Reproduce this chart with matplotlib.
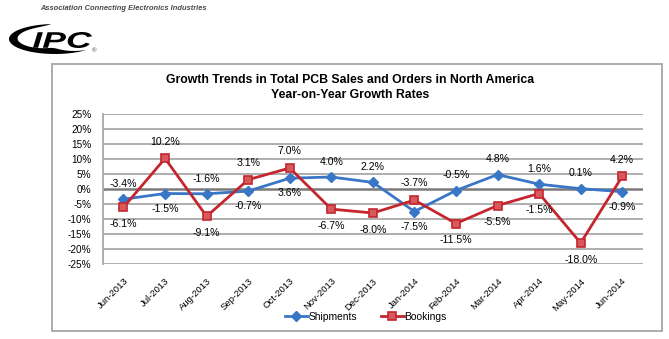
import numpy as np
import matplotlib
matplotlib.use("Agg")
import matplotlib.pyplot as plt
from matplotlib.patches import Rectangle, Polygon, PathPatch
from matplotlib.textpath import TextPath
from matplotlib.font_manager import FontProperties
from matplotlib.transforms import Affine2D

plt.rcParams['font.family'] = ['Liberation Sans', 'DejaVu Sans']

# data
months = ['Jun-2013', 'Jul-2013', 'Aug-2013', 'Sep-2013', 'Oct-2013', 'Nov-2013',
          'Dec-2013', 'Jan-2014', 'Feb-2014', 'Mar-2014', 'Apr-2014', 'May-2014',
          'Jun-2014']
shipments = [-3.4, -1.5, -1.6, -0.7, 3.6, 4.0, 2.2, -7.5, -0.5, 4.8, 1.6, 0.1, -0.9]
bookings = [-6.1, 10.2, -9.1, 3.1, 7.0, -6.7, -8.0, -3.7, -11.5, -5.5, -1.5, -18.0, 4.2]
# +1 = label above the point, -1 = below
ship_side = [1, -1, 1, -1, -1, 1, 1, -1, 1, 1, 1, 1, -1]
book_side = [-1, 1, -1, 1, 1, -1, -1, 1, -1, -1, -1, -1, 1]

blue = '#3a76c6'
red = '#c4262e'
W, H = 669, 339

fig = plt.figure(figsize=(W / 100, H / 100), dpi=100)
fig.patch.set_facecolor('white')

# overlay in pixel coords for header, logo and the chart frame
deco = fig.add_axes([0, 0, 1, 1], zorder=0)
deco.set_xlim(0, W)
deco.set_ylim(H, 0)
deco.axis('off')

deco.text(40, 8, 'Association Connecting Electronics Industries', fontsize=5.4,
          style='italic', weight='bold', color='#4a4a4a', va='center', ha='left')

# swoosh of the logo: a crescent tapering at both ends
t = np.linspace(np.radians(95), np.radians(312), 150)
cx, cy, a, b = 55, 39, 46, 15
px = cx + a * np.cos(t)
py = cy - b * np.sin(t)
thick = 9 * np.sin((t - t[0]) / (t[-1] - t[0]) * np.pi) ** 0.8
dx, dy = cx - px, cy - py
d = np.hypot(dx, dy)
ix = px + dx / d * thick
iy = py + dy / d * thick
deco.add_patch(Polygon(np.column_stack([np.r_[px, ix[::-1]], np.r_[py, iy[::-1]]]),
                       closed=True, color='black', lw=0))

# "IPC" letters stretched into their box (x 32-92, y 32-48)
tp = TextPath((0, 0), 'IPC', size=10,
              prop=FontProperties(family='Liberation Sans', weight='bold', style='italic'))
ext = tp.get_extents()
sx = (92 - 33) / ext.width
sy = (48 - 32) / ext.height
tr = Affine2D().translate(-ext.x0, -ext.y0).scale(sx, -sy).translate(33, 48)
deco.add_patch(PathPatch(tr.transform_path(tp), color='black', lw=0))
deco.text(94, 51, '®', fontsize=4.5, color='#333333', va='center', ha='center')

deco.add_patch(Rectangle((52, 64), 610, 267, fill=False, ec='#a6a6a6', lw=1.3))
deco.text(350, 80, 'Growth Trends in Total PCB Sales and Orders in North America',
          fontsize=8.8, weight='bold', ha='center', va='center')
deco.text(350, 95, 'Year-on-Year Growth Rates', fontsize=8.8, weight='bold',
          ha='center', va='center')

# main plot
ax = fig.add_axes([102.7 / W, 1 - 264 / H, (643 - 102.7) / W, (264 - 114) / H], zorder=1)
ax.set_facecolor('none')
x = np.arange(len(months))

ax.set_ylim(-25, 25)
ax.set_xlim(-0.5, len(months) - 0.5)
ax.set_yticks(np.arange(-25, 26, 5))
ax.set_yticklabels([f'{v}%' for v in range(-25, 26, 5)])
for v in range(-25, 26, 5):
    if v == 0:
        ax.axhline(v, color='#7a7a7a', lw=1.8, zorder=1)
    else:
        ax.axhline(v, color='#a8a8a8', lw=1.3, zorder=1)
for s in ['top', 'right', 'bottom']:
    ax.spines[s].set_visible(False)
ax.spines['left'].set_color('#a8a8a8')
ax.spines['left'].set_linewidth(1.3)
ax.tick_params(axis='both', length=0, labelsize=7.2)
ax.tick_params(axis='y', pad=8)
ax.set_xticks(x)
ax.set_xticklabels(months, rotation=45, ha='right', rotation_mode='anchor',
                   fontsize=6.8)
ax.tick_params(axis='x', pad=9)

ax.plot(x, shipments, color=blue, lw=2, marker='D', ms=5, mfc=blue, mec=blue,
        zorder=3, label='Shipments')
ax.plot(x, bookings, color=red, lw=2, marker='s', ms=6, mfc='#d65a5a', mec=red,
        mew=1.2, zorder=4, label='Bookings')

for xi, v, s in zip(x, shipments, ship_side):
    ax.annotate(f'{v:.1f}%', (xi, v), xytext=(0, 11 * s), textcoords='offset points',
                ha='center', va='center', fontsize=7.6, zorder=5)
for xi, v, s in zip(x, bookings, book_side):
    ax.annotate(f'{v:.1f}%', (xi, v), xytext=(0, 12 * s), textcoords='offset points',
                ha='center', va='center', fontsize=7.6, zorder=5)

fig.legend(loc='center', bbox_to_anchor=(366 / W, 1 - 317 / H), ncol=2, frameon=False,
           fontsize=7.4, handlelength=2.2, handletextpad=0.1, columnspacing=2.3,
           borderaxespad=0)

fig.savefig('out.png', dpi=100)
